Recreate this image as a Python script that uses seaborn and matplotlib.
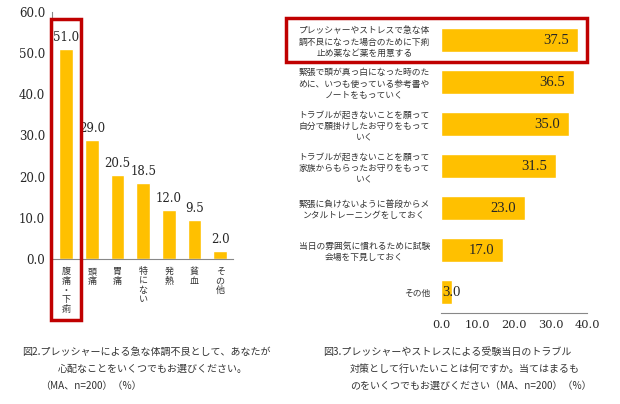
import matplotlib
matplotlib.use("Agg")
import matplotlib.pyplot as plt
import matplotlib.patches as patches
import seaborn as sns
import pandas as pd

# left chart: worries (%)
worry_labels = ["腹痛・下痢", "頭痛", "胃痛", "特にない", "発熱", "貧血", "その他"]
worry_values = [51.0, 29.0, 20.5, 18.5, 12.0, 9.5, 2.0]

# right chart: countermeasures (%)
plan_labels = [
    "プレッシャーやストレスで急な体\n調不良になった場合のために下痢\n止め薬など薬を用意する",
    "緊張で頭が真っ白になった時のた\nめに、いつも使っている参考書や\nノートをもっていく",
    "トラブルが起きないことを願って\n自分で願掛けしたお守りをもって\nいく",
    "トラブルが起きないことを願って\n家族からもらったお守りをもって\nいく",
    "緊張に負けないように普段からメ\nンタルトレーニングをしておく",
    "当日の雰囲気に慣れるために試験\n会場を下見しておく",
    "その他",
]
plan_values = [37.5, 36.5, 35.0, 31.5, 23.0, 17.0, 3.0]

left_ticks = [0, 10, 20, 30, 40, 50, 60]
right_ticks = [0, 10, 20, 30, 40]

caption_left = ["図2.プレッシャーによる急な体調不良として、あなたが",
                "心配なことをいくつでもお選びください。",
                "（MA、n=200）（%）"]
caption_right = ["図3.プレッシャーやストレスによる受験当日のトラブル",
                 "対策として行いたいことは何ですか。当てはまるも",
                 "のをいくつでもお選びください（MA、n=200）（%）"]

sns.set_style("white")
plt.rcParams["font.family"] = ["Noto Sans CJK JP", "DejaVu Sans"]

GOLD = "#FFC000"
NUM = ["DejaVu Serif"]
NUM2 = ["Liberation Serif", "DejaVu Serif"]
fig = plt.figure(figsize=(6.2, 4.04), dpi=100)

# ---- left bar chart
ax1 = fig.add_axes([52 / 620, 1 - 259 / 404, 181 / 620, 247 / 404])
df1 = pd.DataFrame({"label": worry_labels, "value": worry_values})
sns.barplot(data=df1, x="label", y="value", color=GOLD, width=0.54,
            saturation=1, ax=ax1)
ax1.set_xlim(-0.55, 6.5)
ax1.set_ylim(0, 60)
ax1.set_yticks(left_ticks)
ax1.set_yticklabels([f"{t:.1f}" for t in left_ticks], family=NUM, fontsize=8.5)
ax1.set_xticks(range(len(worry_labels)))
ax1.set_xticklabels(["\n".join(s) for s in worry_labels], fontsize=6.5,
                    linespacing=1.05, va="top", color="#333333")
ax1.tick_params(axis="x", length=0, pad=6)
ax1.tick_params(axis="y", length=3, direction="out", pad=2, color="#888888")
ax1.set_xlabel("")
ax1.set_ylabel("")
for s in ["top", "right"]:
    ax1.spines[s].set_visible(False)
for s in ["left", "bottom"]:
    ax1.spines[s].set_color("#888888")
    ax1.spines[s].set_linewidth(0.8)
for i, v in enumerate(worry_values):
    ax1.text(i, v + 1.2, f"{v:.1f}", ha="center", va="bottom",
             family=NUM, fontsize=8.5)

# ---- right horizontal bar chart
ax2 = fig.add_axes([441 / 620, 1 - 313 / 404, 146 / 620, 294 / 404])
df2 = pd.DataFrame({"label": plan_labels, "value": plan_values})
sns.barplot(data=df2, y="label", x="value", color=GOLD, width=0.55,
            saturation=1, orient="h", ax=ax2)
ax2.set_xlim(0, 40)
ax2.set_ylim(6.5, -0.5)
ax2.set_xticks(right_ticks)
ax2.set_xticklabels([f"{t:.1f}" for t in right_ticks], family=NUM, fontsize=8.2)
ax2.set_yticks(range(len(plan_labels)))
ax2.set_yticklabels(plan_labels, fontsize=6.3, linespacing=1.3,
                    multialignment="center", color="#333333")
ax2.tick_params(axis="y", length=0, pad=8)
ax2.tick_params(axis="x", length=4, direction="in", pad=5, color="#888888")
ax2.set_xlabel("")
ax2.set_ylabel("")
for s in ["top", "right", "left"]:
    ax2.spines[s].set_visible(False)
ax2.spines["bottom"].set_color("#888888")
ax2.spines["bottom"].set_linewidth(0.8)
for i, v in enumerate(plan_values):
    if v < 10:
        ax2.text(0.3, i, f"{v:.1f}", ha="left", va="center",
                 family=NUM2, fontsize=10.5)
    else:
        ax2.text(v - 2.4, i, f"{v:.1f}", ha="right", va="center",
                 family=NUM2, fontsize=10.5)

# ---- red highlight boxes
fig.patches.append(patches.Rectangle((51 / 620, 1 - 320 / 404), 30 / 620, 301 / 404,
                                     transform=fig.transFigure, fill=False,
                                     edgecolor="#C00000", linewidth=2.5))
fig.patches.append(patches.Rectangle((286 / 620, 1 - 62 / 404), 301 / 620, 44 / 404,
                                     transform=fig.transFigure, fill=False,
                                     edgecolor="#C00000", linewidth=2.5))

# ---- captions
cap_y = [352, 369, 386]
for txt, x, y in zip(caption_left, [22, 58, 40], cap_y):
    fig.text(x / 620, 1 - y / 404, txt, fontsize=7.2, va="center", color="#333333")
for txt, x, y in zip(caption_right, [323, 350, 350], cap_y):
    fig.text(x / 620, 1 - y / 404, txt, fontsize=7.2, va="center", color="#333333")

fig.savefig("out.png", dpi=100)
